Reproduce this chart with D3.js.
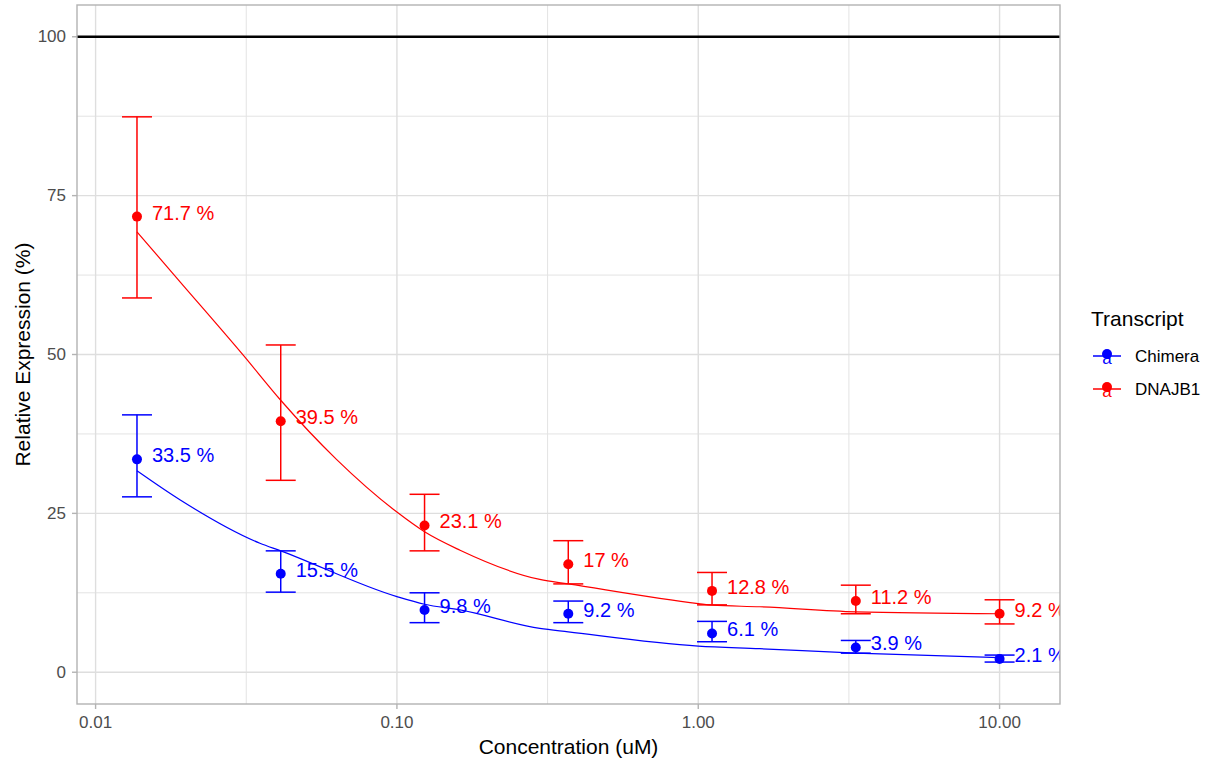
<!DOCTYPE html>
<html>
<head>
<meta charset="utf-8">
<script src="https://cdn.jsdelivr.net/npm/d3@7"></script>
<style>
  body { margin: 0; background: #fff; }
  svg { display: block; font-family: "Liberation Sans", Arial, sans-serif; }
</style>
</head>
<body>
<svg id="chart" width="1214" height="761"></svg>
<script>
// ---- data ----
const concentrations = [0.01372, 0.04115, 0.1235, 0.3704, 1.111, 3.333, 10];
const seriesNames = ["Chimera", "DNAJB1"];
const seriesColors = ["#0000FF", "#FF0000"];
const chimeraMean = [33.5, 15.5, 9.8, 9.2, 6.1, 3.9, 2.1];
const chimeraLow  = [27.6, 12.6, 7.8, 7.8, 4.8, 3.0, 1.6];
const chimeraHigh = [40.5, 19.1, 12.5, 11.2, 8.0, 5.0, 2.7];
const dnajb1Mean = [71.7, 39.5, 23.1, 17, 12.8, 11.2, 9.2];
const dnajb1Low  = [58.9, 30.2, 19.1, 13.9, 10.6, 9.2, 7.6];
const dnajb1High = [87.4, 51.5, 28.0, 20.7, 15.7, 13.7, 11.4];
// fitted curves
const chimeraFitX = [0.01372, 0.0191, 0.0351, 0.04115, 0.1, 0.1235, 0.162, 0.298, 0.3704, 1.0, 1.6, 3.333, 10];
const chimeraFitY = [31.7, 27.1, 20.3, 19.1, 11.9, 10.7, 9.8, 6.9, 6.35, 4.1, 3.7, 3.0, 2.3];
const dnajb1FitX = [0.01372, 0.0191, 0.0309, 0.04115, 0.063, 0.1, 0.1235, 0.162, 0.298, 0.3704, 1.0, 1.111, 1.6, 3.333, 10];
const dnajb1FitY = [69.3, 61.4, 49.9, 42.8, 33.5, 25.2, 22.1, 19.2, 14.6, 13.9, 10.8, 10.55, 10.3, 9.5, 9.2];
const xTicks = [0.01, 0.1, 1, 10];
const xTickLabels = ["0.01", "0.10", "1.00", "10.00"];
const xMinor = [0.0316228, 0.316228, 3.16228];
const yTicks = [0, 25, 50, 75, 100];
const yMinor = [12.5, 37.5, 62.5, 87.5];
const refLine = 100;

// ---- layout ----
const svg = d3.select("#chart");
const P = { left: 77, right: 1060, top: 5, bottom: 704 };
const x = d3.scaleLog().domain([Math.pow(10, -2.0617), Math.pow(10, 1.2005)]).range([P.left, P.right]);
const y = d3.scaleLinear().domain([-5, 105]).range([P.bottom, P.top]);

svg.append("defs").append("clipPath").attr("id", "clip")
  .append("rect").attr("x", P.left).attr("y", P.top)
  .attr("width", P.right - P.left).attr("height", P.bottom - P.top);

const grid = svg.append("g");
yMinor.forEach(v => grid.append("line").attr("x1", P.left).attr("x2", P.right)
  .attr("y1", y(v)).attr("y2", y(v)).attr("stroke", "#E3E3E3").attr("stroke-width", 1));
xMinor.forEach(v => grid.append("line").attr("y1", P.top).attr("y2", P.bottom)
  .attr("x1", x(v)).attr("x2", x(v)).attr("stroke", "#E3E3E3").attr("stroke-width", 1));
yTicks.forEach(v => grid.append("line").attr("x1", P.left).attr("x2", P.right)
  .attr("y1", y(v)).attr("y2", y(v)).attr("stroke", "#DEDEDE").attr("stroke-width", 1.4));
xTicks.forEach(v => grid.append("line").attr("y1", P.top).attr("y2", P.bottom)
  .attr("x1", x(v)).attr("x2", x(v)).attr("stroke", "#DEDEDE").attr("stroke-width", 1.4));

const plot = svg.append("g").attr("clip-path", "url(#clip)");

// reference line
plot.append("line").attr("x1", P.left).attr("x2", P.right)
  .attr("y1", y(refLine)).attr("y2", y(refLine)).attr("stroke", "#000").attr("stroke-width", 2.6);

const series = [
  { name: seriesNames[0], color: seriesColors[0], mean: chimeraMean, lo: chimeraLow, hi: chimeraHigh, fx: chimeraFitX, fy: chimeraFitY },
  { name: seriesNames[1], color: seriesColors[1], mean: dnajb1Mean, lo: dnajb1Low, hi: dnajb1High, fx: dnajb1FitX, fy: dnajb1FitY }
];

const line = d3.line().x(d => x(d[0])).y(d => y(d[1])).curve(d3.curveMonotoneX);
const capHalf = 15;

series.forEach(s => {
  const g = plot.append("g");
  // fit line
  g.append("path").datum(s.fx.map((v, i) => [v, s.fy[i]]))
    .attr("d", line).attr("fill", "none").attr("stroke", s.color).attr("stroke-width", 1.2);
  // error bars
  concentrations.forEach((c, i) => {
    const cx = x(c);
    g.append("line").attr("x1", cx).attr("x2", cx).attr("y1", y(s.lo[i])).attr("y2", y(s.hi[i]))
      .attr("stroke", s.color).attr("stroke-width", 1.5);
    [s.lo[i], s.hi[i]].forEach(v => g.append("line").attr("x1", cx - capHalf).attr("x2", cx + capHalf)
      .attr("y1", y(v)).attr("y2", y(v)).attr("stroke", s.color).attr("stroke-width", 1.5));
  });
  // points
  g.selectAll("circle").data(concentrations).join("circle")
    .attr("cx", d => x(d)).attr("cy", (d, i) => y(s.mean[i])).attr("r", 5).attr("fill", s.color);
  // labels
  g.selectAll("text").data(concentrations).join("text")
    .attr("x", d => x(d) + 15).attr("y", (d, i) => y(s.mean[i]) - 4)
    .attr("dominant-baseline", "central")
    .attr("font-size", 20).attr("fill", s.color)
    .text((d, i) => s.mean[i] + " %");
});

// panel border
svg.append("rect").attr("x", P.left).attr("y", P.top)
  .attr("width", P.right - P.left).attr("height", P.bottom - P.top)
  .attr("fill", "none").attr("stroke", "#B3B3B3").attr("stroke-width", 1.4);

// axes
const axisColor = "#B3B3B3";
xTicks.forEach((v, i) => {
  svg.append("line").attr("x1", x(v)).attr("x2", x(v)).attr("y1", P.bottom).attr("y2", P.bottom + 5)
    .attr("stroke", axisColor).attr("stroke-width", 1.4);
  svg.append("text").attr("x", x(v)).attr("y", P.bottom + 18).attr("text-anchor", "middle")
    .attr("dominant-baseline", "central").attr("font-size", 17).attr("fill", "#4D4D4D").text(xTickLabels[i]);
});
yTicks.forEach(v => {
  svg.append("line").attr("x1", P.left - 5).attr("x2", P.left).attr("y1", y(v)).attr("y2", y(v))
    .attr("stroke", axisColor).attr("stroke-width", 1.4);
  svg.append("text").attr("x", P.left - 11).attr("y", y(v)).attr("text-anchor", "end")
    .attr("dominant-baseline", "central").attr("font-size", 17).attr("fill", "#4D4D4D").text(v);
});

svg.append("text").attr("x", (P.left + P.right) / 2).attr("y", 746).attr("text-anchor", "middle")
  .attr("dominant-baseline", "central").attr("font-size", 21).attr("fill", "#000").text("Concentration (uM)");
svg.append("text").attr("transform", `translate(22,${(P.top + P.bottom) / 2}) rotate(-90)`)
  .attr("text-anchor", "middle").attr("dominant-baseline", "central")
  .attr("font-size", 21).attr("fill", "#000").text("Relative Expression (%)");

// legend
const lg = svg.append("g");
lg.append("text").attr("x", 1091).attr("y", 318).attr("dominant-baseline", "central")
  .attr("font-size", 21).attr("fill", "#000").text("Transcript");
series.forEach((s, i) => {
  const cy = 356 + i * 33;
  lg.append("line").attr("x1", 1093).attr("x2", 1121).attr("y1", cy).attr("y2", cy)
    .attr("stroke", s.color).attr("stroke-width", 1.5);
  lg.append("text").attr("x", 1107).attr("y", cy + 2).attr("text-anchor", "middle")
    .attr("dominant-baseline", "central").attr("font-size", 17).attr("fill", s.color).text("a");
  lg.append("circle").attr("cx", 1107).attr("cy", cy - 2).attr("r", 5).attr("fill", s.color);
  lg.append("text").attr("x", 1135).attr("y", cy).attr("dominant-baseline", "central")
    .attr("font-size", 17).attr("fill", "#000").text(s.name);
});
</script>
</body>
</html>
